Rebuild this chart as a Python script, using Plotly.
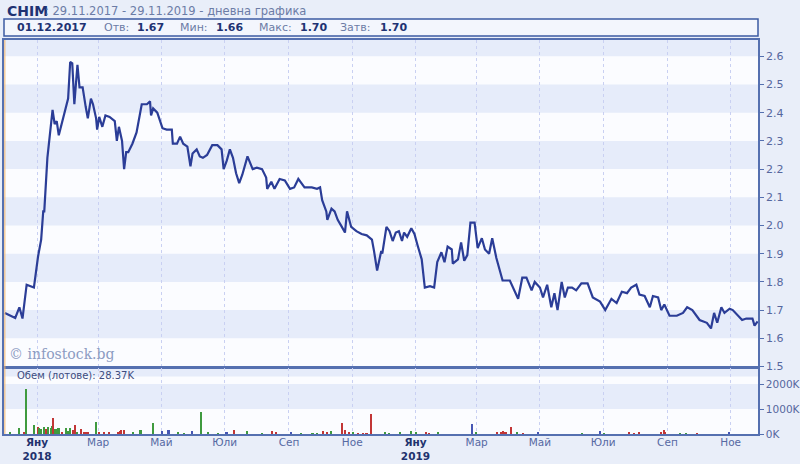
import plotly.graph_objects as go

# ---------------- data ----------------
ticker = "CHIM"
period_text = ": 29.11.2017 - 29.11.2019 - дневна графика"
info_date = "01.12.2017"
info_labels = ["Отв:", "Мин:", "Макс:", "Затв:"]
info_values = ["1.67", "1.66", "1.70", "1.70"]
volume_label = "Обем (лотове): 28.37K"
watermark = "© infostock.bg"

price_dates = [
    "2017-12-01", "2017-12-11", "2017-12-15", "2017-12-18", "2017-12-22", "2017-12-29",
    "2018-01-02", "2018-01-05", "2018-01-07", "2018-01-08", "2018-01-11", "2018-01-16",
    "2018-01-18", "2018-01-20", "2018-01-22", "2018-01-25", "2018-01-28", "2018-01-31",
    "2018-02-02", "2018-02-04", "2018-02-06", "2018-02-09", "2018-02-11", "2018-02-14",
    "2018-02-17", "2018-02-19", "2018-02-22", "2018-02-24", "2018-02-27", "2018-02-28",
    "2018-03-02", "2018-03-05", "2018-03-08", "2018-03-12", "2018-03-17", "2018-03-19",
    "2018-03-21", "2018-03-24", "2018-03-26", "2018-03-28", "2018-03-30", "2018-04-03",
    "2018-04-07", "2018-04-12", "2018-04-17", "2018-04-20", "2018-04-21", "2018-04-23",
    "2018-04-27", "2018-05-02", "2018-05-06", "2018-05-11", "2018-05-12", "2018-05-16",
    "2018-05-19", "2018-05-22", "2018-05-26", "2018-05-29", "2018-05-31", "2018-06-04",
    "2018-06-07", "2018-06-10", "2018-06-14", "2018-06-19", "2018-06-24", "2018-06-28",
    "2018-06-30", "2018-07-03", "2018-07-06", "2018-07-09", "2018-07-12", "2018-07-15",
    "2018-07-18", "2018-07-23", "2018-07-28", "2018-08-01", "2018-08-06", "2018-08-10",
    "2018-08-11", "2018-08-15", "2018-08-18", "2018-08-23", "2018-08-28", "2018-09-02",
    "2018-09-06", "2018-09-10", "2018-09-16", "2018-09-23", "2018-09-28", "2018-10-01",
    "2018-10-03", "2018-10-07", "2018-10-08", "2018-10-12", "2018-10-15", "2018-10-18",
    "2018-10-22", "2018-10-25", "2018-10-27", "2018-10-31", "2018-11-05", "2018-11-10",
    "2018-11-15", "2018-11-20", "2018-11-22", "2018-11-25", "2018-11-29", "2018-11-30",
    "2018-12-04", "2018-12-07", "2018-12-10", "2018-12-13", "2018-12-16", "2018-12-19",
    "2018-12-21", "2018-12-24", "2018-12-28", "2018-12-31", "2019-01-03", "2019-01-07",
    "2019-01-10", "2019-01-15", "2019-01-19", "2019-01-22", "2019-01-26", "2019-01-29",
    "2019-02-01", "2019-02-05", "2019-02-06", "2019-02-11", "2019-02-14", "2019-02-17",
    "2019-02-20", "2019-02-23", "2019-02-27", "2019-03-02", "2019-03-06", "2019-03-09",
    "2019-03-13", "2019-03-16", "2019-03-20", "2019-03-23", "2019-03-26", "2019-04-02",
    "2019-04-06", "2019-04-10", "2019-04-14", "2019-04-18", "2019-04-23", "2019-04-26",
    "2019-05-01", "2019-05-04", "2019-05-08", "2019-05-12", "2019-05-15", "2019-05-18",
    "2019-05-22", "2019-05-25", "2019-05-28", "2019-06-01", "2019-06-05", "2019-06-10",
    "2019-06-16", "2019-06-21", "2019-06-28", "2019-07-03", "2019-07-09", "2019-07-14",
    "2019-07-19", "2019-07-24", "2019-07-28", "2019-08-02", "2019-08-05", "2019-08-10",
    "2019-08-15", "2019-08-18", "2019-08-23", "2019-08-26", "2019-08-29", "2019-09-03",
    "2019-09-10", "2019-09-16", "2019-09-20", "2019-09-25", "2019-10-02", "2019-10-09",
    "2019-10-13", "2019-10-16", "2019-10-19", "2019-10-23", "2019-10-26", "2019-10-31",
    "2019-11-03", "2019-11-08", "2019-11-12", "2019-11-16", "2019-11-22", "2019-11-24",
    "2019-11-26", "2019-11-27",
]
price_values = [
    1.69, 1.672, 1.71, 1.67, 1.79, 1.78,
    1.89, 1.95, 2.05, 2.05, 2.24, 2.41,
    2.36, 2.37, 2.32, 2.36, 2.40, 2.45,
    2.58, 2.575, 2.43, 2.57, 2.49, 2.49,
    2.42, 2.38, 2.45, 2.43, 2.38, 2.34,
    2.385, 2.35, 2.39, 2.385, 2.37, 2.30,
    2.35, 2.30, 2.20, 2.26, 2.26, 2.29,
    2.33, 2.43, 2.43, 2.44, 2.39, 2.415,
    2.40, 2.345, 2.34, 2.34, 2.29, 2.29,
    2.315, 2.29, 2.28, 2.21, 2.255, 2.27,
    2.245, 2.24, 2.25, 2.285, 2.285, 2.27,
    2.20, 2.23, 2.27, 2.24, 2.185, 2.15,
    2.18, 2.245, 2.20, 2.205, 2.20, 2.17,
    2.13, 2.155, 2.13, 2.165, 2.16, 2.13,
    2.135, 2.165, 2.135, 2.135, 2.13, 2.135,
    2.09, 2.05, 2.02, 2.06, 2.05, 2.02,
    1.995, 1.975, 2.05, 1.995, 1.98, 1.97,
    1.965, 1.95, 1.91, 1.84, 1.91, 1.90,
    1.995, 1.98, 1.945, 1.975, 1.98, 1.945,
    1.975, 1.96, 1.99, 1.97, 1.93, 1.88,
    1.78, 1.785, 1.78, 1.87, 1.905, 1.87,
    1.925, 1.915, 1.865, 1.88, 1.94, 1.875,
    1.895, 2.01, 2.01, 1.92, 1.955, 1.915,
    1.90, 1.955, 1.885, 1.84, 1.805, 1.805,
    1.77, 1.74, 1.815, 1.815, 1.77, 1.80,
    1.78, 1.745, 1.79, 1.71, 1.76, 1.70,
    1.80, 1.745, 1.78, 1.78, 1.77, 1.795,
    1.795, 1.745, 1.73, 1.70, 1.74, 1.725,
    1.765, 1.76, 1.78, 1.79, 1.755, 1.75,
    1.71, 1.75, 1.745, 1.70, 1.72, 1.68,
    1.68, 1.69, 1.71, 1.70, 1.665, 1.655,
    1.635, 1.69, 1.655, 1.71, 1.69, 1.705,
    1.70, 1.68, 1.665, 1.67, 1.67, 1.645,
    1.655, 1.66,
]

volume_dates = [
    "2017-12-06", "2017-12-15", "2017-12-20", "2017-12-22", "2017-12-29", "2018-01-02",
    "2018-01-03", "2018-01-05", "2018-01-08", "2018-01-10", "2018-01-12", "2018-01-15",
    "2018-01-16", "2018-01-17", "2018-01-19", "2018-01-22", "2018-01-25", "2018-01-29",
    "2018-01-31", "2018-02-02", "2018-02-05", "2018-02-07", "2018-02-09", "2018-02-13",
    "2018-02-16", "2018-02-19", "2018-02-27", "2018-03-02", "2018-03-07", "2018-03-12",
    "2018-03-20", "2018-03-22", "2018-03-23", "2018-03-26", "2018-04-04", "2018-04-11",
    "2018-04-23", "2018-05-02", "2018-05-08", "2018-05-17", "2018-05-23", "2018-05-31",
    "2018-06-08", "2018-06-15", "2018-06-25", "2018-07-03", "2018-07-10", "2018-07-23",
    "2018-08-06", "2018-08-16", "2018-08-20", "2018-09-03", "2018-09-13", "2018-09-24",
    "2018-09-28", "2018-10-04", "2018-10-08", "2018-10-12", "2018-10-22", "2018-10-25",
    "2018-10-29", "2018-11-02", "2018-11-07", "2018-11-12", "2018-11-15", "2018-11-19",
    "2018-12-03", "2018-12-07", "2018-12-17", "2018-12-28", "2019-01-02", "2019-01-11",
    "2019-01-14", "2019-01-23", "2019-02-25", "2019-03-01", "2019-03-21", "2019-03-25",
    "2019-03-27", "2019-03-29", "2019-04-03", "2019-04-09", "2019-04-15", "2019-04-29",
    "2019-06-11", "2019-06-28", "2019-07-02", "2019-07-26", "2019-07-31", "2019-08-05",
    "2019-08-26", "2019-08-29", "2019-08-30", "2019-09-13", "2019-09-19", "2019-09-30",
    "2019-10-31",
]
volume_values = [
    80e3, 250e3, 60e3, 1800e3, 360e3, 300e3,
    250e3, 200e3, 280e3, 220e3, 280e3, 250e3,
    330e3, 650e3, 200e3, 250e3, 100e3, 250e3,
    120e3, 250e3, 150e3, 360e3, 100e3, 200e3,
    100e3, 80e3, 500e3, 100e3, 80e3, 50e3,
    80e3, 120e3, 150e3, 160e3, 60e3, 180e3,
    450e3, 120e3, 150e3, 50e3, 40e3, 130e3,
    900e3, 50e3, 40e3, 60e3, 150e3, 120e3,
    40e3, 130e3, 60e3, 50e3, 40e3, 40e3,
    30e3, 110e3, 60e3, 130e3, 450e3, 150e3,
    100e3, 80e3, 40e3, 40e3, 40e3, 800e3,
    60e3, 30e3, 80e3, 130e3, 100e3, 60e3,
    40e3, 50e3, 390e3, 100e3, 90e3, 100e3,
    120e3, 70e3, 280e3, 50e3, 40e3, 60e3,
    30e3, 110e3, 30e3, 50e3, 40e3, 50e3,
    80e3, 150e3, 100e3, 40e3, 40e3, 40e3,
    60e3,
]
volume_direction = [
    "up", "up", "down", "up", "up", "down",
    "up", "up", "up", "down", "up", "up",
    "up", "down", "up", "up", "down", "up",
    "up", "up", "down", "down", "up", "down",
    "down", "down", "up", "down", "down", "down",
    "down", "down", "down", "down", "up", "up",
    "up", "flat", "flat", "up", "up", "flat",
    "up", "up", "up", "flat", "down", "up",
    "up", "down", "down", "flat", "up", "up",
    "up", "down", "down", "up", "down", "down",
    "down", "up", "down", "down", "down", "down",
    "up", "up", "up", "up", "up", "down",
    "down", "up", "flat", "up", "down", "down",
    "down", "down", "down", "up", "down", "flat",
    "up", "flat", "up", "down", "down", "down",
    "down", "down", "down", "up", "up", "down",
    "flat",
]

month_ticks = ["2018-01-01", "2018-03-01", "2018-05-01", "2018-07-01", "2018-09-01", "2018-11-01",
               "2019-01-01", "2019-03-01", "2019-05-01", "2019-07-01", "2019-09-01", "2019-11-01"]
month_labels = ["Яну|2018", "Мар", "Май", "Юли", "Сеп", "Ное",
                "Яну|2019", "Мар", "Май", "Юли", "Сеп", "Ное"]
price_ticks = [1.5, 1.6, 1.7, 1.8, 1.9, 2.0, 2.1, 2.2, 2.3, 2.4, 2.5, 2.6]
volume_ticks = [0, 1000e3, 2000e3]
volume_tick_labels = ["0K", "1000K", "2000K"]

# ---------------- styling ----------------
W, H = 800, 464
FONT = "DejaVu Sans"
AXIS_BLUE = "#5570b0"
TICK_COL = "#56679e"
DARK = "#1f3373"
BAND = "#e6ecfa"
GRID = "#c9d0f2"
dir_colors = {"up": "#3f9a3f", "down": "#c23636", "flat": "#4656b4"}


def px_x(x):
    return x / W


def px_y(y):
    return (H - y) / H


x_left, x_right = 4, 758
price_top, price_bottom = 40, 366.5
vol_top, vol_bottom = 368, 434

x_range = ["2017-11-30 04:00", "2019-11-27 08:00"]
price_range = [1.5, 1.5 + (price_bottom - price_top) / 282.0]
vol_range = [0, (vol_bottom - vol_top) / 25.0 * 1e6]

tick_text = []
for lab in month_labels:
    if "|" in lab:
        m, yr = lab.split("|")
        tick_text.append(f"<span style='color:#22326e'><b>{m}</b></span><br>"
                         f"<span style='color:#22326e'><b>{yr}</b></span>")
    else:
        tick_text.append(lab)

fig = go.Figure()

fig.add_trace(go.Scatter(
    x=price_dates, y=price_values, mode="lines",
    line=dict(color="#2b3d97", width=2.2), xaxis="x", yaxis="y",
    hoverinfo="skip", showlegend=False,
))
fig.add_trace(go.Bar(
    x=volume_dates, y=volume_values,
    marker=dict(color=[dir_colors[d] for d in volume_direction], line=dict(width=0)),
    width=1.6 * 86400000, xaxis="x2", yaxis="y2",
    hoverinfo="skip", showlegend=False,
))

shapes = []
band_edges = price_ticks[1:] + [price_range[1]]
for i in range(0, len(band_edges) - 1, 2):
    shapes.append(dict(type="rect", xref="x domain", yref="y", x0=0, x1=1,
                       y0=band_edges[i], y1=band_edges[i + 1],
                       fillcolor=BAND, line=dict(width=0), layer="below"))
for y0, y1 in [(1000e3, 2000e3), (2300e3, vol_range[1])]:
    shapes.append(dict(type="rect", xref="x2 domain", yref="y2", x0=0, x1=1,
                       y0=y0, y1=y1, fillcolor=BAND, line=dict(width=0), layer="below"))
sel = "-".join(reversed(info_date.split(".")))
shapes.append(dict(type="line", xref="x", yref="paper", x0=sel, x1=sel,
                   y0=px_y(vol_bottom), y1=px_y(price_top),
                   line=dict(color="#f3b46a", width=1)))
shapes.append(dict(type="rect", xref="paper", yref="paper",
                   x0=px_x(4), x1=px_x(758), y0=px_y(36), y1=px_y(19),
                   fillcolor="#f3f6fd", line=dict(color="#3d5ba3", width=1.5)))

annotations = [
    dict(text=f"<b>{ticker}</b>", x=px_x(5), y=px_y(11), xref="paper", yref="paper",
         xanchor="left", yanchor="middle", showarrow=False,
         font=dict(family=FONT, size=14, color=DARK)),
    dict(text=period_text, x=px_x(43), y=px_y(11.5), xref="paper", yref="paper",
         xanchor="left", yanchor="middle", showarrow=False,
         font=dict(family=FONT, size=11.5, color="#6c7ca6")),
    dict(text=f"<b>{info_date}</b>", x=px_x(15), y=px_y(27.5), xref="paper", yref="paper",
         xanchor="left", yanchor="middle", showarrow=False,
         font=dict(family=FONT, size=11, color=DARK)),
    dict(text=watermark, x=px_x(7), y=px_y(354), xref="paper", yref="paper",
         xanchor="left", yanchor="middle", showarrow=False,
         font=dict(family="DejaVu Serif", size=14, color="#8c9bc2")),
    dict(text=volume_label, x=px_x(15), y=px_y(375.5), xref="paper", yref="paper",
         xanchor="left", yanchor="middle", showarrow=False,
         font=dict(family=FONT, size=10, color="#3d4c80")),
]
label_x = [102, 178, 257, 338]
value_x = [135, 214, 298, 378]
for lab, val, lx, vx in zip(info_labels, info_values, label_x, value_x):
    annotations.append(dict(text=lab, x=px_x(lx), y=px_y(27.5), xref="paper", yref="paper",
                            xanchor="left", yanchor="middle", showarrow=False,
                            font=dict(family=FONT, size=11, color="#6c7ca6")))
    annotations.append(dict(text=f"<b>{val}</b>", x=px_x(vx), y=px_y(27.5), xref="paper",
                            yref="paper", xanchor="left", yanchor="middle", showarrow=False,
                            font=dict(family=FONT, size=11, color=DARK)))

common_x = dict(
    type="date", range=x_range, domain=[px_x(x_left), px_x(x_right)],
    tickmode="array", tickvals=month_ticks, automargin=False,
    showgrid=True, gridcolor=GRID, gridwidth=1, griddash="dot",
    showline=True, linecolor=AXIS_BLUE, linewidth=1.5, mirror=True,
    zeroline=False, fixedrange=True,
)

fig.update_layout(
    width=W, height=H,
    margin=dict(l=0, r=0, t=0, b=0, pad=0, autoexpand=False),
    paper_bgcolor="#e9eef9",
    plot_bgcolor="#fbfcff",
    font=dict(family=FONT, color=TICK_COL),
    showlegend=False,
    bargap=0,
    xaxis=dict(**common_x, anchor="y", showticklabels=False, ticks=""),
    xaxis2=dict(**common_x, anchor="y2", matches="x", ticktext=tick_text,
                showticklabels=True, ticks="", ticklabelstandoff=-2,
                tickfont=dict(family=FONT, size=10.5, color="#5669a3")),
    yaxis=dict(
        domain=[px_y(price_bottom), px_y(price_top)], range=price_range, anchor="x",
        side="right", tickmode="array", tickvals=price_ticks, automargin=False,
        ticktext=[f"{v:.1f}" for v in price_ticks],
        ticks="outside", ticklen=4, tickcolor=AXIS_BLUE, tickwidth=1,
        tickfont=dict(family=FONT, size=11, color=TICK_COL),
        showgrid=False, zeroline=False,
        showline=True, linecolor=AXIS_BLUE, linewidth=1.5, mirror=True, fixedrange=True,
    ),
    yaxis2=dict(
        domain=[px_y(vol_bottom), px_y(vol_top)], range=vol_range, anchor="x2",
        side="right", tickmode="array", tickvals=volume_ticks, ticktext=volume_tick_labels,
        ticks="outside", ticklen=4, tickcolor=AXIS_BLUE, tickwidth=1, automargin=False,
        tickfont=dict(family=FONT, size=10.5, color=TICK_COL),
        showgrid=False, zeroline=False,
        showline=True, linecolor=AXIS_BLUE, linewidth=1.5, mirror=True, fixedrange=True,
    ),
    shapes=shapes,
    annotations=annotations,
)

fig.write_html(
    "out.html",
    config={"displayModeBar": False},
    post_script="document.body.style.margin='0px'; document.body.style.background='#e9eef9';",
)
